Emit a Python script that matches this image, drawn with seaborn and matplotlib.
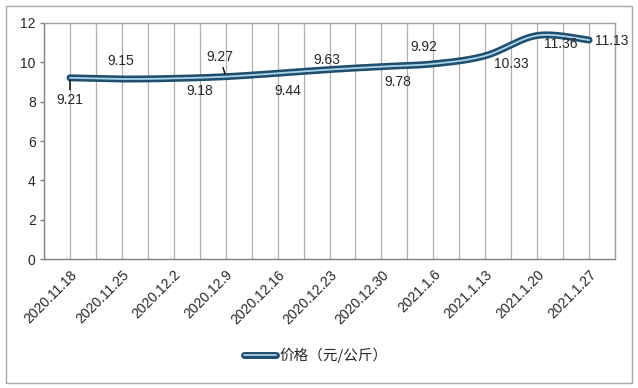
import numpy as np
import pandas as pd
import matplotlib
matplotlib.use("Agg")
import matplotlib.pyplot as plt
import seaborn as sns
from matplotlib.lines import Line2D
from matplotlib.patches import Rectangle

# data
dates = ['2020.11.18', '2020.11.25', '2020.12.2', '2020.12.9', '2020.12.16',
         '2020.12.23', '2020.12.30', '2021.1.6', '2021.1.13', '2021.1.20', '2021.1.27']
prices = [9.21, 9.15, 9.18, 9.27, 9.44, 9.63, 9.78, 9.92, 10.33, 11.36, 11.13]
series_name = '价格（元/公斤）'

# label offsets in points (dx, dy) relative to each data point
label_offsets = [(0, -16), (-1, 13), (19, -9), (-4, 14), (7, -13), (-2, 7),
                 (12, -11), (-7, 12), (19, -6), (17, -6), (16, -1)]

sns.set_theme(style="white")
plt.rcParams['font.family'] = ['Liberation Sans', 'Noto Sans CJK SC', 'DejaVu Sans']


def smooth_curve(y, n=30):
    # Excel-like smoothed line: cubic bezier with catmull-rom control points
    x = np.arange(len(y), dtype=float)
    y = np.asarray(y, dtype=float)
    px = np.concatenate([[x[0]], x, [x[-1]]])
    py = np.concatenate([[y[0]], y, [y[-1]]])
    xs, ys = [], []
    t = np.linspace(0, 1, n)
    for i in range(len(y) - 1):
        p0 = np.array([px[i + 1], py[i + 1]])
        p3 = np.array([px[i + 2], py[i + 2]])
        p1 = p0 + (p3 - np.array([px[i], py[i]])) / 6
        p2 = p3 - (np.array([px[i + 3], py[i + 3]]) - p0) / 6
        b = (np.outer((1 - t) ** 3, p0) + np.outer(3 * (1 - t) ** 2 * t, p1)
             + np.outer(3 * (1 - t) * t ** 2, p2) + np.outer(t ** 3, p3))
        xs.extend(b[:, 0])
        ys.extend(b[:, 1])
    return pd.DataFrame({'x': xs, 'y': ys})


curve = smooth_curve(prices)

fig = plt.figure(figsize=(6.38, 3.88), dpi=100)
ax = fig.add_axes([0.069, 0.332, 0.895, 0.609])

# vertical gridlines at category centres and boundaries
for gx in np.arange(-0.5, len(dates), 0.5):
    ax.axvline(gx, color='#b0b0b0', lw=0.9, zorder=0)

sns.lineplot(data=curve, x='x', y='y', ax=ax, color='#1f4e6e', lw=5,
             sort=False, solid_capstyle='round', zorder=3)
sns.lineplot(data=curve, x='x', y='y', ax=ax, color='#a9d4ea', lw=1.3,
             sort=False, zorder=4)

for i, (v, (dx, dy)) in enumerate(zip(prices, label_offsets)):
    arrow = None
    if i in (0, 3):
        arrow = dict(arrowstyle='-', color='black', lw=1, shrinkA=0, shrinkB=2)
    ax.annotate(f'{v:.2f}', xy=(i, v), xytext=(dx, dy), textcoords='offset points',
                ha='center', va='center', fontsize=10, color='#262626',
                arrowprops=arrow, zorder=5)

ax.set_xlim(-0.5, len(dates) - 0.5)
ax.set_ylim(0, 12)
ax.set_yticks(np.arange(0, 13, 2))
ax.set_xticks(np.arange(len(dates)))
ax.set_xticklabels(dates, rotation=45, ha='right', rotation_mode='anchor')
ax.tick_params(axis='both', labelsize=10, labelcolor='#262626', pad=4)
ax.tick_params(axis='y', left=True, length=3, width=1, color='#808080', pad=3)
ax.tick_params(axis='x', length=0, pad=6)
ax.set_xlabel('')
ax.set_ylabel('')
for s in ax.spines.values():
    s.set_color('#a0a0a0')
    s.set_linewidth(1)
ax.spines['left'].set_color('#808080')
ax.spines['bottom'].set_color('#808080')

handle = (Line2D([], [], color='#1f4e6e', lw=5, solid_capstyle='round'),
          Line2D([], [], color='#a9d4ea', lw=1.3))
fig.legend([handle], [series_name], loc='center', bbox_to_anchor=(0.495, 0.085),
           frameon=False, fontsize=10.5, handlelength=2.2, handletextpad=0.2,
           prop={'family': ['Noto Sans CJK SC'], 'size': 10.5})

fig.patches.append(Rectangle((0.009, 0.013), 0.982, 0.972, transform=fig.transFigure,
                             fill=False, edgecolor='#a8a8a8', lw=1))

fig.savefig('out.png', dpi=100, facecolor='white')
